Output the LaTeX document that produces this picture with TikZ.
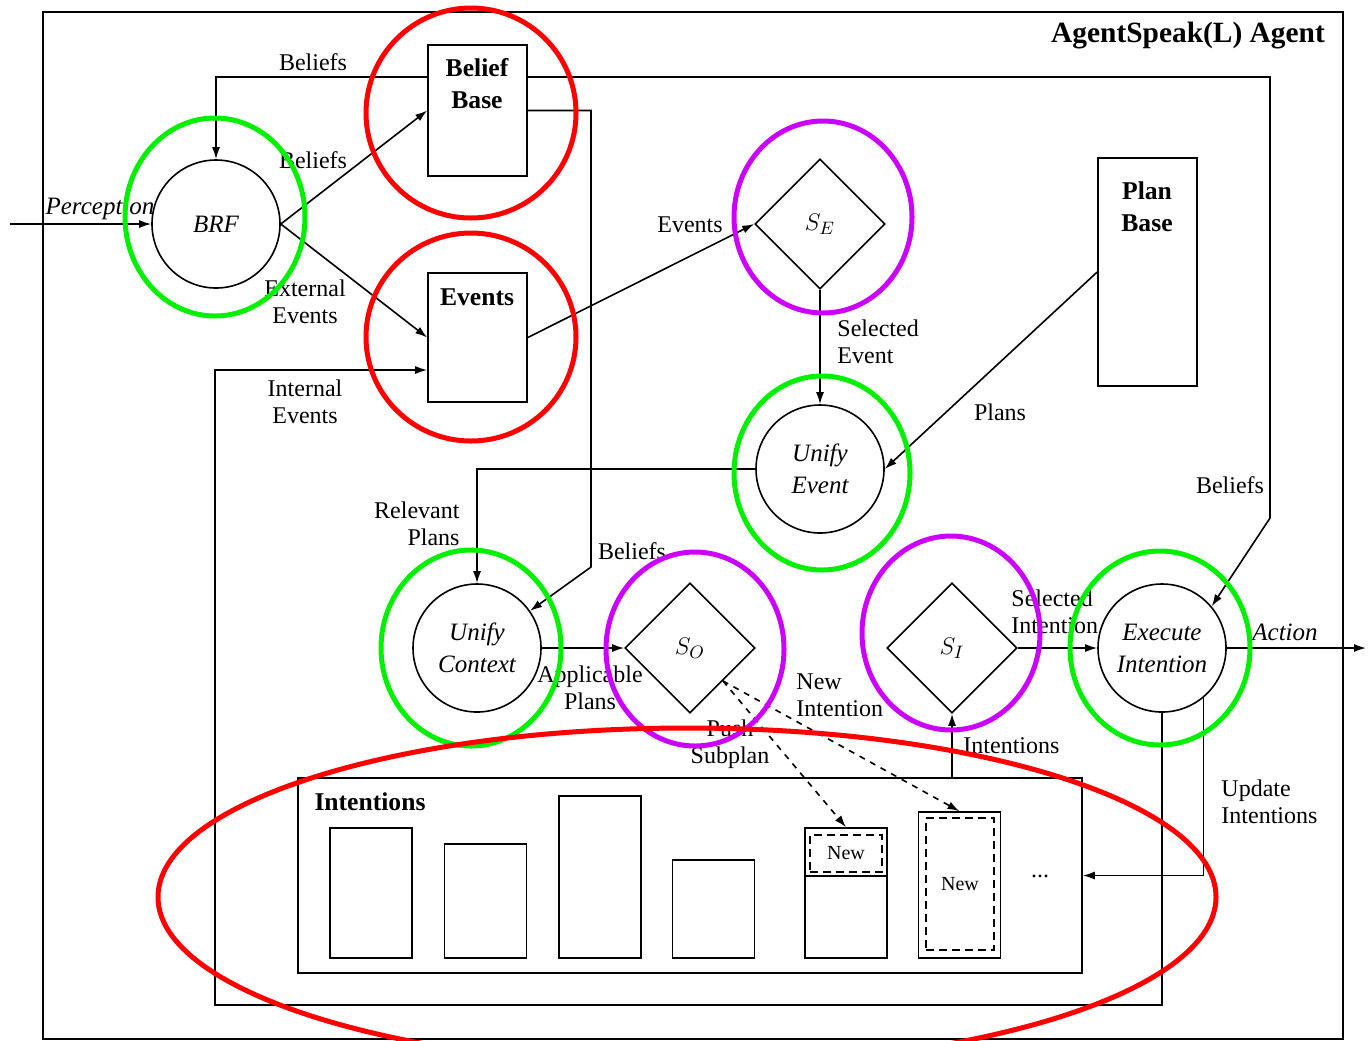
\documentclass[tikz,border=0pt]{standalone}
\usepackage{fontspec}
\setmainfont{Liberation Serif}
\usetikzlibrary{shapes.geometric,arrows.meta}

\definecolor{markred}{RGB}{255,0,0}
\definecolor{markgreen}{RGB}{0,240,0}
\definecolor{markpurple}{RGB}{204,0,255}

\tikzset{
    proc/.style={draw, circle, minimum size=64pt, inner sep=0pt, align=center,
        font=\fontsize{12.5}{16}\selectfont\itshape},
    choose/.style={draw, diamond, minimum width=65pt, minimum height=65pt, inner sep=0pt,
        font=\fontsize{13}{15}\selectfont},
    store/.style={draw, rectangle, minimum width=49.5pt, inner sep=0pt},
    slot/.style={draw, rectangle, minimum width=41pt, inner sep=0pt},
    newpart/.style={draw, rectangle, inner sep=0pt, line width=0.7pt,
        dash pattern=on 4pt off 2.5pt, font=\fontsize{10}{12}\selectfont},
    boxlbl/.style={align=center, font=\fontsize{12.8}{16}\selectfont\bfseries},
    lbl/.style={align=center, font=\fontsize{12}{13.5}\selectfont},
    ital/.style={lbl, font=\fontsize{12.5}{13.5}\selectfont\itshape},
    ring/.style={line width=2.5pt}
}

\begin{document}
\begin{tikzpicture}[x=0.5pt, y=-0.5pt, line width=0.8pt, >={Latex[length=6pt,width=4pt]}]
    \useasboundingbox (0,0) rectangle (1368,1040);
    \draw (43,12) rectangle (1343,1039);
    \node[font=\fontsize{14.7}{16}\selectfont\bfseries] (title) at (1188,36) {AgentSpeak(L) Agent};

    \node[proc] (brf) at (216,224) {BRF};
    \node[store, minimum height=65.5pt] (bb) at (477.5,110.5) {};
    \node[boxlbl] (bblbl) at (477,84) {Belief\\Base};
    \node[store, minimum height=64.5pt] (ev) at (477.5,337.5) {};
    \node[boxlbl] (evlbl) at (477,297) {Events};
    \node[store, minimum height=114pt] (pb) at (1147.5,272) {};
    \node[boxlbl] (pblbl) at (1147,207) {Plan\\Base};

    \node[choose] (se) at (820,224) {$S_E$};
    \node[proc] (ue) at (820,469) {Unify\\Event};
    \node[proc] (uc) at (477,648) {Unify\\Context};
    \node[choose] (so) at (690,648) {$S_O$};
    \node[choose] (si) at (952,648) {$S_I$};
    \node[proc] (ei) at (1162,648) {Execute\\Intention};

    \node[draw, minimum width=392pt, minimum height=97.5pt, inner sep=0pt] (ib) at (690,875.5) {};
    \node[boxlbl] (iblbl) at (370,802) {Intentions};
    \node[slot, minimum height=65pt] (i1) at (371,893) {};
    \node[slot, minimum height=57pt] (i2) at (485.5,901) {};
    \node[slot, minimum height=81pt] (i3) at (600,877) {};
    \node[slot, minimum height=49pt] (i4) at (713.5,909) {};
    \node[slot, minimum height=65pt] (i5) at (846,893) {};
    \node[slot, minimum height=73pt] (i6) at (959.5,885) {};
    \coordinate (cut) at (846,876);
    \draw (i5.west |- cut) -- (i5.east |- cut);
    \node[newpart, minimum width=36pt, minimum height=18.5pt] (new1) at (846,853.5) {New};
    \node[newpart, minimum width=34pt, minimum height=66pt] (new2) at (960,884) {New};
    \node[font=\fontsize{12}{12}\selectfont] (more) at (1040,876) {...};

    \node[ital] (perc) at (100,209) {Perception};
    \node[ital] (act) at (1285,632) {Action};
    \node[lbl] (belief1) at (313,62) {Beliefs};
    \node[lbl] (belief2) at (313,160) {Beliefs};
    \node[lbl] (extev) at (305,302) {External\\Events};
    \node[lbl] (intev) at (305,402) {Internal\\Events};
    \node[lbl] (evts) at (690,225) {Events};
    \node[lbl, align=left, anchor=west] (selev) at (830,342) {Selected\\Event};
    \node[lbl] (plans) at (1000,412) {Plans};
    \node[lbl, align=right, anchor=east] (relpl) at (467,524) {Relevant\\Plans};
    \node[lbl] (belief3) at (632,551) {Beliefs};
    \node[lbl] (belief4) at (1230,485) {Beliefs};
    \node[lbl] (apppl) at (590,688) {Applicable\\Plans};
    \node[lbl] (push) at (730,744) {Push\\Subplan};
    \node[lbl, align=left, anchor=west] (newint) at (789,695) {New\\Intention};
    \node[lbl, align=left, anchor=west] (selint) at (1004,612) {Selected\\Intention};
    \node[lbl, anchor=west] (ints) at (956,746) {Intentions};
    \node[lbl, align=left, anchor=west] (updint) at (1214,802) {Update\\Intentions};

    \coordinate (in) at (10,224);
    \coordinate (out) at (1366,648);
    \coordinate (tl) at (216,77);
    \coordinate (tr) at (1270,77);
    \coordinate (rb) at (1270,518);
    \coordinate (mt) at (591,110.5);
    \coordinate (mb) at (591,567);
    \coordinate (br) at (1162,1005);
    \coordinate (bl) at (215,1005);
    \coordinate (ml) at (215,370);

    \draw[->] (in) -- (brf);
    \draw[->] (brf.east) -- (bb.west);
    \draw[->] (brf.east) -- (ev.west);
    \draw[->] (bb.west |- tl) -- (tl) -- (brf.north);
    \draw[->] (bb.east |- tr) -- (tr) -- (rb) -- (ei.40);
    \draw[->] (bb.east) -- (mt) -- (mb) -- (uc.35);
    \draw[->] (ei.south) -- (br) -- (bl) -- (ml) -- (ev.west |- ml);
    \draw[->] (ev.east) -- (se.west);
    \draw[->] (se.south) -- (ue.north);
    \draw[->] (pb.west) -- (ue.east);
    \draw[->] (ue.west) -| (uc.north);
    \draw[->] (uc.east) -- (so.west);
    \draw[->, dashed] (so.south east) -- (i5.north);
    \draw[->, dashed] (so.south east) -- (i6.north);
    \draw[->] (si.east) -- (ei.west);
    \draw[->] (si.south |- ib.north) -- (si.south);
    \draw[->] (ei.east) -- (out);
    \draw[->] (ei.-50) |- (ib.east);

    \draw[ring, markgreen] (215,217) ellipse [x radius=45pt, y radius=49.5pt];
    \draw[ring, markgreen] (822,473) ellipse [x radius=44pt, y radius=48.5pt];
    \draw[ring, markgreen] (471,648) ellipse [x radius=45pt, y radius=49pt];
    \draw[ring, markgreen] (1160,648) ellipse [x radius=45pt, y radius=48.5pt];
    \draw[ring, markpurple] (823,217) ellipse [x radius=44.5pt, y radius=48pt];
    \draw[ring, markpurple] (695,649) ellipse [x radius=44.5pt, y radius=48.5pt];
    \draw[ring, markpurple] (951,633) ellipse [x radius=44.5pt, y radius=48.5pt];
    \draw[ring, markred] (471,113) ellipse [x radius=52.5pt, y radius=52.5pt];
    \draw[ring, markred] (471,337) ellipse [x radius=52.5pt, y radius=52pt];
    \draw[ring, markred] (687,897) ellipse [x radius=264.5pt, y radius=84.5pt];
\end{tikzpicture}
\end{document}
